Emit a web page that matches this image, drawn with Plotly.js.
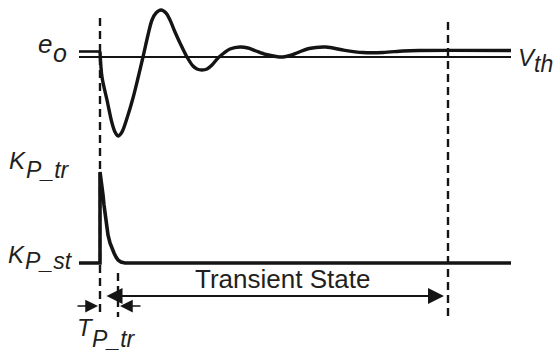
<!DOCTYPE html>
<html>
<head>
<meta charset="utf-8">
<script src="https://cdn.plot.ly/plotly-3.0.1.min.js"></script>
<style>html,body{margin:0;padding:0;background:#fff;}#chart{width:556px;height:356px;}</style>
</head>
<body>
<div id="chart"></div>
<script>
// ---- data (arbitrary time units; e_o relative to V_th; K_P gain units) ----
var eoStartTime = [-2.1, 0];
var eoStartValue = [0.55, 0.55];
var eoTime = [0, 0.2, 0.7, 1.2, 1.5, 1.8, 2.2, 2.8, 3.3, 3.8, 4.3, 4.8, 5.2, 5.6, 6.1, 6.6, 7.0, 7.5, 8.0, 8.7, 9.3, 9.7, 10.2, 10.7, 11.2, 11.8, 12.4, 13.0, 14.0, 14.8, 15.6, 16.6, 17.6, 18.3, 19.0, 19.8, 20.9, 22.6, 24.3, 26.3, 28.3, 30.3, 31.9, 41.1];
var eoValue = [0.55, -2.0, -4.3, -6.6, -7.5, -7.9, -7.5, -5.8, -4.1, -2.1, 0, 2.2, 3.7, 4.4, 4.7, 4.4, 3.7, 2.5, 1.4, 0, -0.9, -1.2, -1.3, -1.2, -0.8, -0.1, 0.4, 0.8, 1.0, 0.9, 0.6, 0.25, 0.05, 0.0, 0.15, 0.45, 0.85, 1.0, 0.7, 0.45, 0.45, 0.6, 0.65, 0.65];
var vthTime = [-2.1, 41.1];
var vthValue = [0, 0];
var kpTime = [-2.1, 0, 0, 0.1, 0.2, 0.3, 0.4, 0.5, 0.6, 0.7, 0.8, 1.0, 1.2, 1.4, 1.6, 1.8, 2.1, 2.5, 41.1];
var kpValue = [1, 1, 10.1, 9.5, 8.7, 7.8, 6.8, 5.9, 5.1, 4.4, 3.8, 3.0, 2.4, 2.0, 1.6, 1.3, 1.1, 1.0, 1.0];
var markerTimes = [0, 1.8, 34.8];        // t = 0, end of T_P_tr, end of transient
var markerTop = [3.9, -21.6, 3.5];
var markerBottom = [-26.0, -26.0, -26.0];
var transientArrow = {from: 0.5, to: 34.4, level: -23.9};
var tptrArrows = [{tip: -0.2, tail: -2.4}, {tip: 2.0, tail: 4.2}];
var tptrLevel = -24.9;
var labels = ["e", "o", "V", "th", "K", "P_tr", "K", "P_st", "T", "P_tr", "Transient State"];

var ink = '#141414';
var traces = [];
traces.push({x: vthTime, y: vthValue, mode: 'lines', line: {color: ink, width: 2}, hoverinfo: 'skip'});
traces.push({x: eoStartTime, y: eoStartValue, mode: 'lines', line: {color: ink, width: 2.6}, hoverinfo: 'skip'});
traces.push({x: eoTime, y: eoValue, mode: 'lines', line: {color: ink, width: 3.4, shape: 'spline', smoothing: 0.9}, hoverinfo: 'skip'});
traces.push({x: kpTime, y: kpValue, yaxis: 'y2', mode: 'lines', line: {color: ink, width: 3.6, shape: 'linear'}, hoverinfo: 'skip'});
for (var i = 0; i < markerTimes.length; i++) {
  traces.push({x: [markerTimes[i], markerTimes[i]], y: [markerTop[i], markerBottom[i]], mode: 'lines',
    line: {color: ink, width: 2.4, dash: '8px,5px'}, hoverinfo: 'skip'});
}

var W = 556, H = 356;
function lab(txt, px, py, size, italic, anchor) {
  return {text: txt, xref: 'paper', yref: 'paper', x: px / W, y: 1 - py / H,
    xanchor: anchor || 'left', yanchor: 'middle', showarrow: false,
    font: {family: 'Liberation Sans, Arial, sans-serif', size: size, color: '#231f20',
      style: italic ? 'italic' : 'normal'}};
}
var ann = [
  lab(labels[0], 36, 44, 26, true), lab(labels[1], 51, 53, 25, true),
  lab(labels[2], 516, 57, 24, true), lab(labels[3], 532, 64, 23, true),
  lab(labels[4], 7, 160, 24, true), lab(labels[5], 24, 170, 23, true),
  lab(labels[6], 6, 254, 24, true), lab(labels[7], 23, 261, 23, true),
  lab(labels[8], 75, 327, 24, true), lab(labels[9], 90, 339, 23, true),
  lab(labels[10], 282, 279, 26, false, 'center')
];
ann.push({x: transientArrow.to, y: transientArrow.level, ax: transientArrow.from, ay: transientArrow.level,
  xref: 'x', yref: 'y', axref: 'x', ayref: 'y', text: '', showarrow: true, arrowside: 'end+start',
  arrowhead: 2, startarrowhead: 2, arrowsize: 1.6, startarrowsize: 1.6, arrowwidth: 2, arrowcolor: ink,
  standoff: 0, startstandoff: 0});
tptrArrows.forEach(function (a) {
  ann.push({x: a.tip, y: tptrLevel, ax: a.tail, ay: tptrLevel, xref: 'x', yref: 'y', axref: 'x', ayref: 'y',
    text: '', showarrow: true, arrowhead: 2, arrowsize: 1.5, arrowwidth: 1.7, arrowcolor: ink, standoff: 0});
});

var layout = {
  width: W, height: H, autosize: false, showlegend: false,
  margin: {l: 0, r: 0, t: 0, b: 0, pad: 0},
  paper_bgcolor: '#fff', plot_bgcolor: '#fff',
  xaxis: {range: [-10, 45.6], visible: false, fixedrange: true},
  yaxis: {range: [-29.9, 5.7], visible: false, fixedrange: true},
  yaxis2: {range: [-8.3, 27.3], visible: false, overlaying: 'y', fixedrange: true},
  annotations: ann
};
Plotly.newPlot('chart', traces, layout, {staticPlot: true, displayModeBar: false});
</script>
</body>
</html>
